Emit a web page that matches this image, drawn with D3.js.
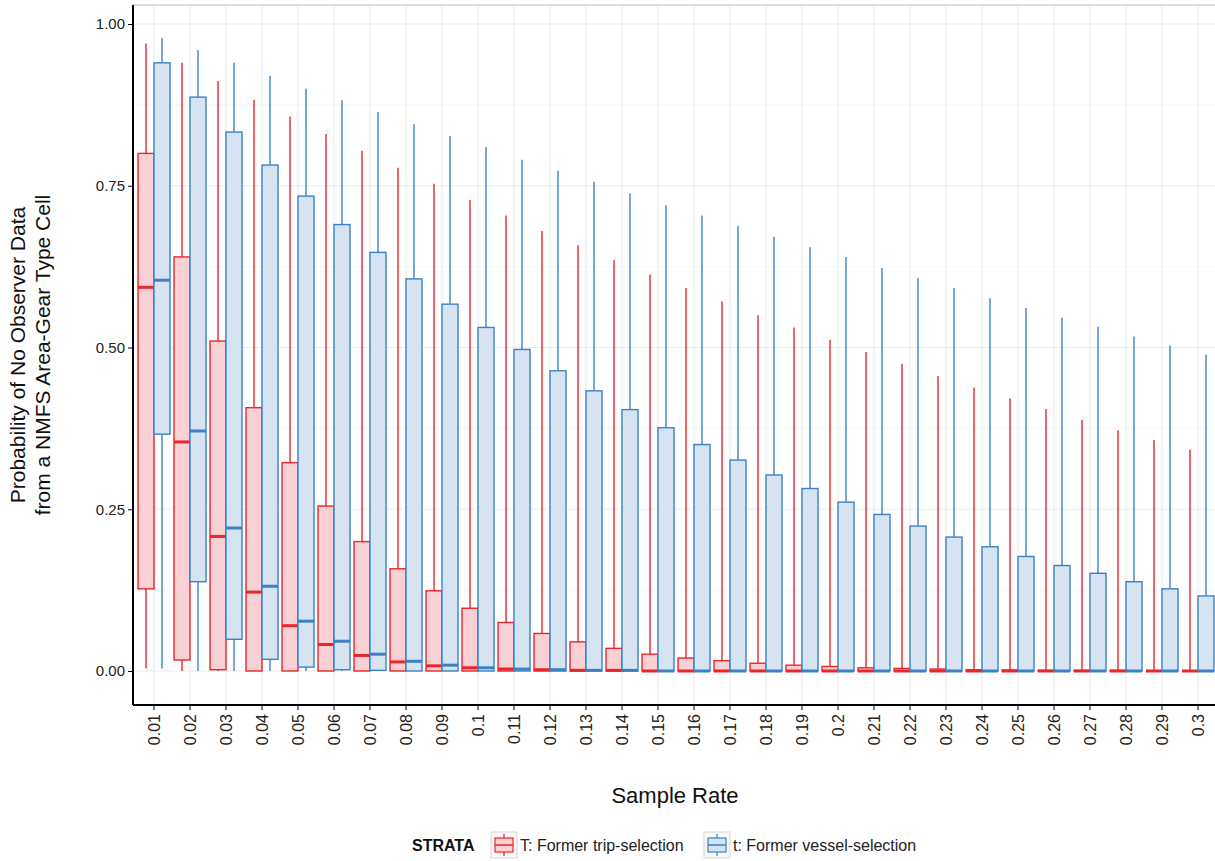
<!DOCTYPE html>
<html><head><meta charset="utf-8">
<script src="https://cdn.jsdelivr.net/npm/d3@7"></script>
<style>body{margin:0;background:#fff;font-family:"Liberation Sans",Arial,sans-serif}</style>
</head><body><div id="chart"></div>
<script>
var rates = ["0.01","0.02","0.03","0.04","0.05","0.06","0.07","0.08","0.09","0.1","0.11","0.12","0.13","0.14","0.15","0.16","0.17","0.18","0.19","0.2","0.21","0.22","0.23","0.24","0.25","0.26","0.27","0.28","0.29","0.3"];
// Former trip-selection (T)
var tripHi  = [.97,.94,.912,.883,.857,.83,.804,.778,.753,.728,.704,.68,.658,.635,.613,.592,.571,.55,.531,.512,.493,.475,.456,.438,.421,.405,.388,.372,.357,.342];
var tripQ3  = [.80,.64,.51,.407,.322,.255,.20,.158,.124,.097,.075,.058,.045,.035,.026,.02,.016,.012,.009,.007,.005,.004,.003,.002,.0015,.001,.001,.001,0,0];
var tripMed = [.593,.354,.208,.122,.07,.041,.024,.014,.008,.005,.003,.002,.001,.001,0,0,0,0,0,0,0,0,0,0,0,0,0,0,0,0];
var tripQ1  = [.127,.017,.002,0,0,0,0,0,0,0,0,0,0,0,0,0,0,0,0,0,0,0,0,0,0,0,0,0,0,0];
var tripLo  = [.004,0,0,0,0,0,0,0,0,0,0,0,0,0,0,0,0,0,0,0,0,0,0,0,0,0,0,0,0,0];
// Former vessel-selection (t)
var vesHi  = [.978,.96,.94,.92,.9,.882,.864,.845,.827,.81,.79,.773,.756,.738,.72,.704,.688,.671,.655,.64,.623,.607,.592,.576,.561,.546,.532,.517,.503,.489];
var vesQ3  = [.94,.887,.833,.782,.734,.69,.647,.606,.567,.531,.497,.464,.433,.404,.376,.35,.326,.303,.282,.261,.242,.224,.207,.192,.177,.163,.151,.138,.127,.116];
var vesMed = [.604,.371,.221,.131,.077,.046,.026,.015,.009,.005,.003,.002,.001,.001,0,0,0,0,0,0,0,0,0,0,0,0,0,0,0,0];
var vesQ1  = [.366,.138,.049,.018,.006,.002,.001,0,0,0,0,0,0,0,0,0,0,0,0,0,0,0,0,0,0,0,0,0,0,0];
var vesLo  = [.004,0,0,0,0,0,0,0,0,0,0,0,0,0,0,0,0,0,0,0,0,0,0,0,0,0,0,0,0,0];
var yTicks = [0, 0.25, 0.5, 0.75, 1];

var svg = d3.select("#chart").append("svg").attr("width",1215).attr("height",861);
var margin = {top:5, left:133, right:1215, bottom:705};
var x = d3.scaleBand().domain(rates).range([136, 1216]).padding(0);
var y = d3.scaleLinear().domain([0,1]).range([671, 24]);

// grid
var g = svg.append("g");
[0.125,0.375,0.625,0.875].forEach(v => g.append("line").attr("x1",margin.left).attr("x2",1215).attr("y1",y(v)).attr("y2",y(v)).attr("stroke","#f2f2f2").attr("stroke-width",0.6));
yTicks.forEach(v => g.append("line").attr("x1",margin.left).attr("x2",1215).attr("y1",y(v)).attr("y2",y(v)).attr("stroke","#ebebeb").attr("stroke-width",1.1));
rates.forEach(r => g.append("line").attr("x1",x(r)+x.bandwidth()/2).attr("x2",x(r)+x.bandwidth()/2).attr("y1",margin.top).attr("y2",margin.bottom).attr("stroke","#ebebeb").attr("stroke-width",1.1));
svg.append("line").attr("x1",margin.left).attr("x2",1215).attr("y1",margin.top).attr("y2",margin.top).attr("stroke","#d0d0d0").attr("stroke-width",1.5);

var series = [
  {hi:tripHi,q3:tripQ3,med:tripMed,q1:tripQ1,lo:tripLo,off:-8,stroke:"#e8262b",fill:"#f9d1d4"},
  {hi:vesHi,q3:vesQ3,med:vesMed,q1:vesQ1,lo:vesLo,off:8,stroke:"#3b82c4",fill:"#d6e3f0"}
];
var bw = 16;
series.forEach(s => {
  var grp = svg.append("g");
  rates.forEach((r,i) => {
    var cx = x(r)+x.bandwidth()/2+s.off;
    grp.append("line").attr("x1",cx).attr("x2",cx).attr("y1",y(s.hi[i])).attr("y2",y(s.q3[i])).attr("stroke",s.stroke).attr("stroke-width",1.4);
    grp.append("line").attr("x1",cx).attr("x2",cx).attr("y1",y(s.q1[i])).attr("y2",y(s.lo[i])).attr("stroke",s.stroke).attr("stroke-width",1.4);
    grp.append("rect").attr("x",cx-bw/2).attr("width",bw).attr("y",y(s.q3[i])).attr("height",Math.max(0,y(s.q1[i])-y(s.q3[i])))
      .attr("fill",s.fill).attr("stroke",s.stroke).attr("stroke-width",1.4);
    grp.append("line").attr("x1",cx-bw/2).attr("x2",cx+bw/2).attr("y1",y(s.med[i])).attr("y2",y(s.med[i])).attr("stroke",s.stroke).attr("stroke-width",3);
  });
});

// axes
var yAxis = svg.append("g").attr("transform",`translate(${margin.left},0)`)
  .call(d3.axisLeft(y).tickValues(yTicks).tickFormat(d3.format(".2f")).tickSize(5).tickSizeOuter(0));
yAxis.select(".domain").attr("d",`M0,${margin.top}V${margin.bottom}`).attr("stroke","#000").attr("stroke-width",2);
yAxis.selectAll("text").attr("font-size",15).attr("fill","#222").attr("font-family","Liberation Sans, Arial");
var xAxis = svg.append("g").attr("transform",`translate(0,${margin.bottom})`)
  .call(d3.axisBottom(x).tickSize(5).tickSizeOuter(0));
xAxis.select(".domain").attr("d",`M${margin.left},0H1215`).attr("stroke","#000").attr("stroke-width",2);
xAxis.selectAll("text").attr("font-size",16).attr("fill","#222").attr("font-family","Liberation Sans, Arial")
  .attr("transform","rotate(-90)").attr("text-anchor","end").attr("x",-9).attr("y",0).attr("dy","0.35em");

svg.append("text").attr("x",675).attr("y",803).attr("text-anchor","middle").attr("font-size",22).attr("fill","#111").text("Sample Rate");
var yl = svg.append("text").attr("transform","translate(0,355) rotate(-90)").attr("text-anchor","middle").attr("font-size",21).attr("fill","#111");
yl.append("tspan").attr("x",0).attr("y",25).text("Probability of No Observer Data");
yl.append("tspan").attr("x",0).attr("y",50).text("from a NMFS Area-Gear Type Cell");

// legend
var lg = svg.append("g").attr("transform","translate(412,845)");
lg.append("text").attr("x",0).attr("y",6).attr("font-size",16).attr("font-weight","bold").attr("fill","#111").text("STRATA");
var items = [{lab:"T: Former trip-selection",s:series[0],x:79},{lab:"t: Former vessel-selection",s:series[1],x:292}];
items.forEach(it => {
  var k = lg.append("g").attr("transform",`translate(${it.x},-13)`);
  k.append("rect").attr("width",26).attr("height",26).attr("fill","#f7f7f7").attr("stroke","#d8d8d8");
  k.append("line").attr("x1",13).attr("x2",13).attr("y1",2).attr("y2",24).attr("stroke",it.s.stroke).attr("stroke-width",1.2);
  k.append("rect").attr("x",4).attr("y",6).attr("width",18).attr("height",14).attr("fill",it.s.fill).attr("stroke",it.s.stroke).attr("stroke-width",1.2);
  k.append("line").attr("x1",4).attr("x2",22).attr("y1",13).attr("y2",13).attr("stroke",it.s.stroke).attr("stroke-width",1.5);
  lg.append("text").attr("x",it.x+29).attr("y",6).attr("font-size",16).attr("fill","#222").text(it.lab);
});
</script></body></html>
